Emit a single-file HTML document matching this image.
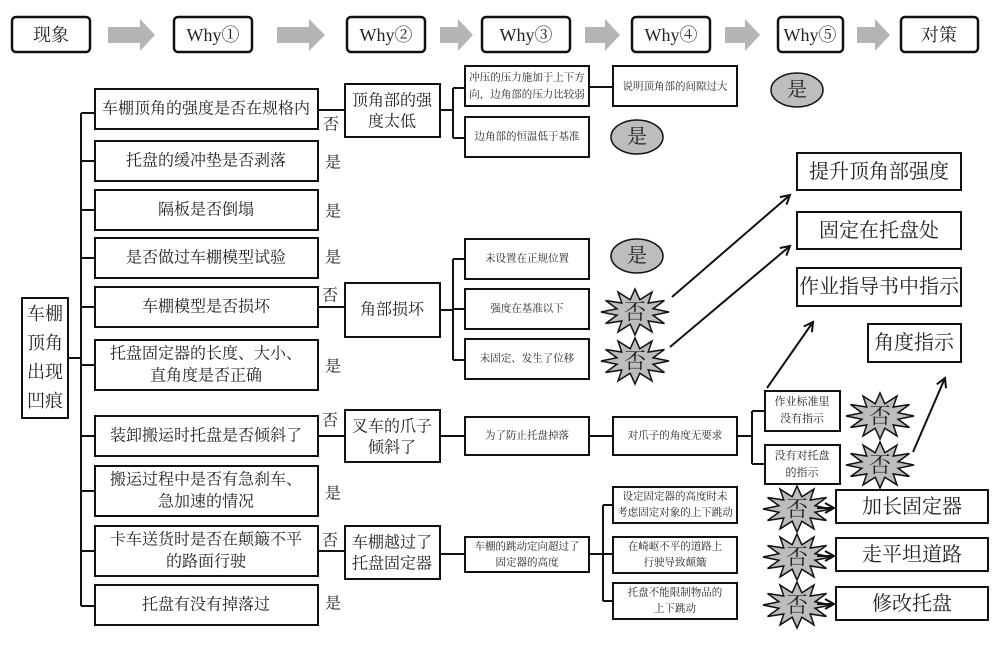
<!DOCTYPE html>
<html><head><meta charset="utf-8"><style>
body{margin:0;background:#fff}
svg{display:block}
text{font-family:"Liberation Serif","Noto Serif CJK SC",serif;fill:#222;text-anchor:middle;dominant-baseline:central}
.b{fill:#fff;stroke:#111;stroke-width:2}
.l{stroke:#111;stroke-width:2;fill:none}
.hb{fill:#fff;stroke:#111;stroke-width:2.5}
.ga{fill:#b5b5b5}
.st{fill:#bdbdbd;stroke:#111;stroke-width:1.5}
.el{fill:#bdbdbd;stroke:#111;stroke-width:1.5}
</style></head><body>
<svg width="1000" height="648" viewBox="0 0 1000 648" xmlns="http://www.w3.org/2000/svg">
<defs>
<polygon id="star" vector-effect="non-scaling-stroke" points="1,0 .531,.142 .866,.5 .389,.389 .5,.866 .142,.531 0,1 -.142,.531 -.5,.866 -.389,.389 -.866,.5 -.531,.142 -1,0 -.531,-.142 -.866,-.5 -.389,-.389 -.5,-.866 -.142,-.531 0,-1 .142,-.531 .5,-.866 .389,-.389 .866,-.5 .531,-.142"/>
<marker id="ar" markerWidth="12" markerHeight="12" refX="10" refY="6" orient="auto" markerUnits="userSpaceOnUse"><path d="M1,1 L10,6 L1,11" fill="none" stroke="#111" stroke-width="2"/></marker>
</defs>
<g font-size="18">
<rect class="hb" x="12" y="17" width="78" height="35" rx="4"/><text x="51" y="35">现象</text>
<rect class="hb" x="174" y="17" width="78" height="35" rx="4"/><text x="213" y="35">Why①</text>
<rect class="hb" x="347" y="17" width="78" height="35" rx="4"/><text x="386" y="35">Why②</text>
<rect class="hb" x="482" y="17" width="88" height="35" rx="4"/><text x="526" y="35">Why③</text>
<rect class="hb" x="632" y="17" width="78" height="35" rx="4"/><text x="671" y="35">Why④</text>
<rect class="hb" x="778" y="17" width="65" height="35" rx="4"/><text x="810" y="35">Why⑤</text>
<rect class="hb" x="901" y="17" width="77" height="35" rx="4"/><text x="939" y="35">对策</text>
</g>
<g class="ga">
<polygon points="108,27 140,27 140,19 155,35 140,51 140,43 108,43"/>
<polygon points="277,27 309,27 309,19 325,35 309,51 309,43 277,43"/>
<polygon points="440,27 458,27 458,19 473,35 458,51 458,43 440,43"/>
<polygon points="585,27 605,27 605,19 620,35 605,51 605,43 585,43"/>
<polygon points="725,27 745,27 745,19 760,35 745,51 745,43 725,43"/>
<polygon points="857,27 875,27 875,19 890,35 875,51 875,43 857,43"/>
</g>
<rect class="b" x="22" y="298" width="46" height="120"/>
<g font-size="18"><text x="45" y="314">车棚</text><text x="45" y="343">顶角</text><text x="45" y="372">出现</text><text x="45" y="401">凹痕</text></g>
<path class="l" d="M68,358 H81 M81,113 V606 M81,113 H95 M81,161 H95 M81,210 H95 M81,258 H95 M81,307 H95 M81,365 H95 M81,436 H95 M81,491 H95 M81,551 H95 M81,606 H95"/>
<g font-size="16">
<rect class="b" x="95" y="89" width="223" height="40"/><text x="206" y="109">车棚顶角的强度是否在规格内</text>
<rect class="b" x="95" y="141" width="223" height="40"/><text x="206" y="161">托盘的缓冲垫是否剥落</text>
<rect class="b" x="95" y="190" width="223" height="40"/><text x="206" y="210">隔板是否倒塌</text>
<rect class="b" x="95" y="238" width="223" height="40"/><text x="206" y="258">是否做过车棚模型试验</text>
<rect class="b" x="95" y="287" width="223" height="40"/><text x="206" y="307">车棚模型是否损坏</text>
<rect class="b" x="95" y="340" width="223" height="50"/><text x="206" y="354">托盘固定器的长度、大小、</text><text x="206" y="376">直角度是否正确</text>
<rect class="b" x="95" y="416" width="223" height="40"/><text x="206" y="436">装卸搬运时托盘是否倾斜了</text>
<rect class="b" x="95" y="466" width="223" height="50"/><text x="206" y="480">搬运过程中是否有急刹车、</text><text x="206" y="502">急加速的情况</text>
<rect class="b" x="95" y="526" width="223" height="50"/><text x="206" y="540">卡车送货时是否在颠簸不平</text><text x="206" y="562">的路面行驶</text>
<rect class="b" x="95" y="585" width="223" height="40"/><text x="206" y="605">托盘有没有掉落过</text>
<text x="331" y="125">否</text><text x="333" y="163">是</text><text x="333" y="212">是</text><text x="333" y="258">是</text>
<text x="330" y="296">否</text><text x="333" y="367">是</text><text x="330" y="421">否</text><text x="333" y="494">是</text>
<text x="330" y="541">否</text><text x="333" y="604">是</text>
</g>
<path class="l" d="M318,110 H345 M318,307 H345 M318,436 H345 M318,551 H345"/>
<g font-size="16">
<rect class="b" x="345" y="84" width="95" height="53"/><text x="392" y="101">顶角部的强</text><text x="392" y="122">度太低</text>
<rect class="b" x="345" y="283" width="95" height="54"/><text x="392" y="310">角部损坏</text>
<rect class="b" x="345" y="410" width="95" height="52"/><text x="392" y="427">叉车的爪子</text><text x="392" y="448">倾斜了</text>
<rect class="b" x="345" y="526" width="95" height="53"/><text x="392" y="543">车棚越过了</text><text x="392" y="564">托盘固定器</text>
</g>
<path class="l" d="M440,110 H453 M453,88 V138 M453,88 H465 M453,138 H465 M440,310 H453 M453,259 V360 M453,259 H465 M453,309 H465 M453,360 H465 M440,436 H465 M440,554 H465"/>
<g font-size="10.5">
<rect class="b" x="465" y="66" width="124" height="40"/><text x="527" y="78">冲压的压力施加于上下方</text><text x="527" y="95">向，边角部的压力比较弱</text>
<rect class="b" x="465" y="117" width="124" height="40"/><text x="527" y="137">边角部的恒温低于基准</text>
<rect class="b" x="465" y="239" width="124" height="40"/><text x="527" y="259">未设置在正规位置</text>
<rect class="b" x="465" y="289" width="124" height="40"/><text x="527" y="309">强度在基准以下</text>
<rect class="b" x="465" y="339" width="124" height="40"/><text x="527" y="359">未固定、发生了位移</text>
<rect class="b" x="465" y="417" width="124" height="38"/><text x="527" y="436">为了防止托盘掉落</text>
<rect class="b" x="465" y="537" width="124" height="35"/><text x="527" y="547">车棚的跳动定向超过了</text><text x="527" y="563">固定器的高度</text>
</g>
<path class="l" d="M589,87 H613 M589,436 H613 M589,554 H603 M603,505 V601 M603,505 H613 M603,554 H613 M603,601 H613"/>
<g font-size="10.5">
<rect class="b" x="613" y="66" width="124" height="40"/><text x="675" y="87">说明顶角部的间隙过大</text>
<rect class="b" x="613" y="417" width="124" height="38"/><text x="675" y="436">对爪子的角度无要求</text>
<rect class="b" x="613" y="487" width="124" height="36"/><text x="675" y="497">设定固定器的高度时未</text><text x="675" y="513">考虑固定对象的上下跳动</text>
<rect class="b" x="613" y="537" width="124" height="36"/><text x="675" y="547">在崎岖不平的道路上</text><text x="675" y="563">行驶导致颠簸</text>
<rect class="b" x="613" y="583" width="124" height="36"/><text x="675" y="593">托盘不能限制物品的</text><text x="675" y="609">上下跳动</text>
</g>
<path class="l" d="M737,436 H752 M752,411 V464 M752,411 H765 M752,464 H765"/>
<g font-size="11">
<rect class="b" x="765" y="391" width="75" height="40"/><text x="802" y="402">作业标准里</text><text x="802" y="419">没有指示</text>
<rect class="b" x="765" y="445" width="75" height="39"/><text x="802" y="456">没有对托盘</text><text x="802" y="473">的指示</text>
</g>
<g font-size="20">
<ellipse class="el" cx="797" cy="90" rx="26" ry="17"/><text x="797" y="90">是</text>
<ellipse class="el" cx="637" cy="137" rx="26" ry="17"/><text x="637" y="137">是</text>
<ellipse class="el" cx="637" cy="256" rx="26" ry="17"/><text x="637" y="256">是</text>
</g>
<g class="st">
<use href="#star" transform="translate(635,312) scale(34,23)"/>
<use href="#star" transform="translate(635,361) scale(34,23)"/>
<use href="#star" transform="translate(880,416) scale(34,23)"/>
<use href="#star" transform="translate(880,465) scale(34,23)"/>
<use href="#star" transform="translate(797,509) scale(34,23)"/>
<use href="#star" transform="translate(797,557) scale(34,23)"/>
<use href="#star" transform="translate(797,605) scale(34,23)"/>
</g>
<g font-size="22">
<text x="635" y="312">否</text><text x="635" y="361">否</text><text x="880" y="416">否</text><text x="880" y="465">否</text>
<text x="797" y="509">否</text><text x="797" y="557">否</text><text x="797" y="605">否</text>
</g>
<g font-size="20">
<rect class="b" x="797" y="153" width="164" height="37"/><text x="879" y="172">提升顶角部强度</text>
<rect class="b" x="797" y="212" width="164" height="37"/><text x="879" y="231">固定在托盘处</text>
<rect class="b" x="797" y="268" width="164" height="38"/><text x="879" y="287">作业指导书中指示</text>
<rect class="b" x="868" y="324" width="93" height="38"/><text x="914" y="343">角度指示</text>
<rect class="b" x="836" y="490" width="152" height="33"/><text x="912" y="507">加长固定器</text>
<rect class="b" x="836" y="538" width="152" height="33"/><text x="912" y="555">走平坦道路</text>
<rect class="b" x="836" y="587" width="152" height="33"/><text x="912" y="604">修改托盘</text>
</g>
<path class="l" marker-end="url(#ar)" d="M672,297 L790,195"/>
<path class="l" marker-end="url(#ar)" d="M670,347 L790,246"/>
<path class="l" marker-end="url(#ar)" d="M767,388 L813,322"/>
<path class="l" marker-end="url(#ar)" d="M913,452 L945,378"/>
<path class="l" marker-end="url(#ar)" d="M817,508 L834,508"/>
<path class="l" marker-end="url(#ar)" d="M817,556 L834,556"/>
<path class="l" marker-end="url(#ar)" d="M817,604 L834,604"/>
</svg>
</body></html>
